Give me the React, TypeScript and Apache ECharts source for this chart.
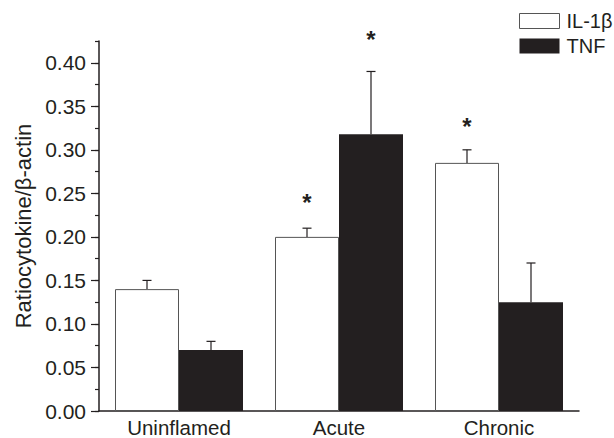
import React, { useEffect, useRef } from "react";
import * as echarts from "echarts";

const categories = ["Uninflamed", "Acute", "Chronic"];
const seriesNames = ["IL-1β", "TNF"];
const il1bValues = [0.14, 0.2, 0.285];
const tnfValues = [0.07, 0.318, 0.125];
const il1bErrTop = [0.15, 0.21, 0.3];
const tnfErrTop = [0.08, 0.39, 0.17];
const il1bStar: (number | null)[] = [null, 0.24, 0.327];
const tnfStar: (number | null)[] = [null, 0.427, null];
const yTicks = [0, 0.05, 0.1, 0.15, 0.2, 0.25, 0.3, 0.35, 0.4];
const yMinorTicks = [0, 0.025, 0.05, 0.075, 0.1, 0.125, 0.15, 0.175, 0.2, 0.225, 0.25, 0.275, 0.3, 0.325, 0.35, 0.375, 0.4, 0.425];
const yMax = 0.425;

const ink = "#231f20";
const font = "'Liberation Sans', Arial, Helvetica, sans-serif";

function makeErr(values: number[], tops: number[], stars: (number | null)[], sign: number, name: string) {
  return {
    type: "custom",
    name,
    silent: true,
    clip: false,
    z: 5,
    data: values.map((v, i) => [i, v, tops[i], stars[i] == null ? "-" : stars[i]]),
    renderItem: (params: any, api: any) => {
      const ci = api.value(0);
      const v = api.value(1);
      const e = api.value(2);
      const s = api.value(3);
      const base = api.coord([ci, v]);
      const band = api.size([1, 0])[0];
      const x = base[0] + sign * band * 0.2;
      const top = api.coord([ci, e])[1];
      const children: any[] = [
        { type: "line", shape: { x1: x, y1: base[1], x2: x, y2: top }, style: { stroke: ink, lineWidth: 1.2 } },
        { type: "line", shape: { x1: x - 4.5, y1: top, x2: x + 4.5, y2: top }, style: { stroke: ink, lineWidth: 1.2 } },
      ];
      if (typeof s === "number" && !isNaN(s)) {
        const sy = api.coord([ci, s])[1];
        children.push({
          type: "text",
          x,
          y: sy,
          style: {
            text: "*",
            fill: ink,
            font: `bold 24px ${font}`,
            align: "center",
            verticalAlign: "middle",
          },
        });
      }
      return { type: "group", children };
    },
  };
}

export default function App() {
  const ref = useRef<HTMLDivElement>(null);
  useEffect(() => {
    if (!ref.current) return;
    const chart = echarts.init(ref.current, undefined, { renderer: "svg" });
    chart.setOption({
      animation: false,
      backgroundColor: "#fff",
      textStyle: { fontFamily: font, color: ink },
      legend: {
        orient: "vertical",
        left: 519,
        top: 11,
        padding: 0,
        icon: "rect",
        itemWidth: 40,
        itemHeight: 15,
        itemGap: 5,
        textStyle: { fontSize: 20, color: ink, fontFamily: font, padding: [0, 0, 0, 2] },
        data: [
          { name: seriesNames[0], itemStyle: { color: "#fff", borderColor: "#555", borderWidth: 1 } },
          { name: seriesNames[1], itemStyle: { color: ink, borderWidth: 0 } },
        ],
      },
      grid: { left: 99, right: 35, top: 41, bottom: 26.3, containLabel: false },
      xAxis: {
        type: "category",
        data: categories,
        axisTick: { show: false },
        axisLine: { lineStyle: { color: ink, width: 1.5 } },
        axisLabel: { fontSize: 20.5, color: ink, fontFamily: font, margin: 6 },
      },
      yAxis: [
        {
          type: "value",
          min: 0,
          max: yMax,
          interval: 0.05,
          name: "Ratiocytokine/β-actin",
          nameLocation: "middle",
          nameGap: 64,
          nameTextStyle: { fontSize: 22, color: ink, fontFamily: font },
          splitLine: { show: false },
          axisLine: { show: true, lineStyle: { color: ink, width: 1.5 } },
          axisTick: { show: true, length: 8, lineStyle: { color: ink, width: 1.2 }, customValues: yTicks },
          axisLabel: {
            fontSize: 21,
            color: ink,
            fontFamily: font,
            margin: 13,
            customValues: yTicks,
            formatter: (v: number) => v.toFixed(2),
          },
        },
        {
          type: "value",
          min: 0,
          max: yMax,
          interval: 0.025,
          position: "left",
          splitLine: { show: false },
          axisLine: { show: false },
          axisLabel: { show: false },
          axisTick: { show: true, length: 4, lineStyle: { color: ink, width: 1.2 }, customValues: yMinorTicks },
        },
      ],
      series: [
        {
          type: "bar",
          name: seriesNames[0],
          data: il1bValues,
          barGap: "0%",
          barCategoryGap: "20%",
          itemStyle: { color: "#fff", borderColor: "#555", borderWidth: 1 },
        },
        {
          type: "bar",
          name: seriesNames[1],
          data: tnfValues,
          barGap: "0%",
          barCategoryGap: "20%",
          itemStyle: { color: ink },
        },
        makeErr(il1bValues, il1bErrTop, il1bStar, -1, "IL-1β err"),
        makeErr(tnfValues, tnfErrTop, tnfStar, 1, "TNF err"),
      ],
    });
    return () => chart.dispose();
  }, []);
  return <div ref={ref} style={{ position: "fixed", left: 0, top: 0, width: 614, height: 438 }} />;
}
